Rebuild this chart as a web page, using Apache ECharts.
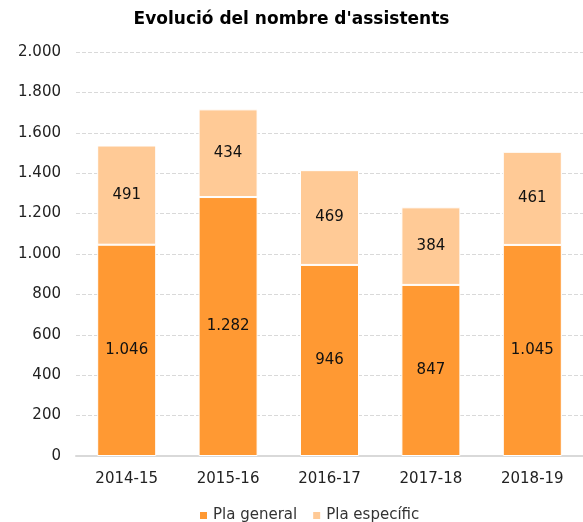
<!DOCTYPE html>
<html><head><meta charset="utf-8">
<script src="https://cdn.jsdelivr.net/npm/echarts@6/dist/echarts.min.js"></script>
<style>html,body{margin:0;padding:0;background:#fff}#c{width:583px;height:522px}</style>
</head><body><div id="c"></div>
<script>
const categories = ['2014-15','2015-16','2016-17','2017-18','2018-19'];
const plaGeneral = [1046,1282,946,847,1045];
const plaEspecific = [491,434,469,384,461];
const fmt = v => String(v).replace(/\B(?=(\d{3})+(?!\d))/g,'.');
const font = "'DejaVu Sans', Verdana, sans-serif";
const chart = echarts.init(document.getElementById('c'));
chart.setOption({
  animation:false,
  title:{text:"Evolució del nombre d'assistents",left:'center',top:6,textStyle:{fontFamily:font,fontSize:17,fontWeight:'bold',color:'#000'}},
  grid:{left:76,width:512,top:52,bottom:66},
  legend:{top:503,left:193,itemWidth:9,itemHeight:9,itemGap:14,icon:'rect',textStyle:{fontFamily:font,fontSize:15,color:'#333'},data:['Pla general','Pla específic']},
  xAxis:{type:'category',data:categories,axisLine:{lineStyle:{color:'#d9d9d9',width:2}},axisTick:{show:false},axisLabel:{fontFamily:font,fontSize:15,color:'#222',margin:16}},
  yAxis:{type:'value',min:0,max:2000,interval:200,axisLine:{show:false},axisTick:{show:false},splitLine:{lineStyle:{color:'#d9d9d9',type:'dashed'}},axisLabel:{fontFamily:font,fontSize:15,color:'#222',margin:15,formatter:fmt}},
  series:[
    {name:'Pla general',type:'bar',stack:'t',data:plaGeneral,barWidth:59,itemStyle:{color:'#FF9933',borderColor:'#fff',borderWidth:1},label:{show:true,position:'inside',fontFamily:font,fontSize:15,color:'#111',formatter:p=>fmt(p.value)}},
    {name:'Pla específic',type:'bar',stack:'t',data:plaEspecific,barWidth:59,itemStyle:{color:'#FFCA96',borderColor:'#fff',borderWidth:1},label:{show:true,position:'inside',fontFamily:font,fontSize:15,color:'#111',formatter:p=>fmt(p.value)}}
  ]
});
</script></body></html>
